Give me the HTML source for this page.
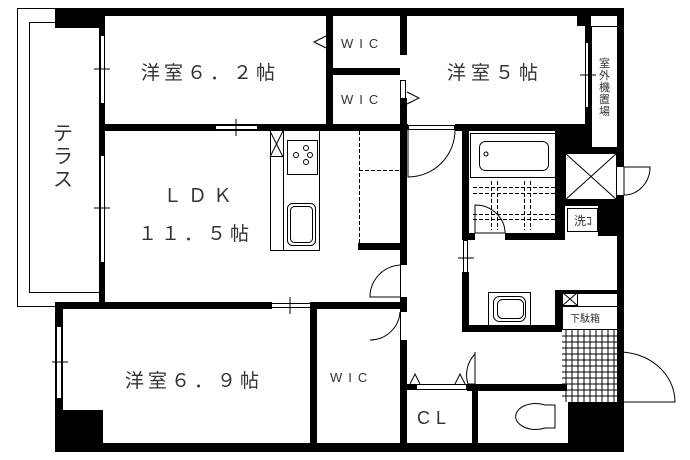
<!DOCTYPE html>
<html><head><meta charset="utf-8"><style>
html,body{margin:0;padding:0;background:#fff;}
svg{display:block;}
text{font-family:"Liberation Sans","Noto Sans CJK JP",sans-serif;fill:#333;}
</style></head><body>
<svg width="690" height="460" viewBox="0 0 690 460" xmlns="http://www.w3.org/2000/svg">
<rect width="690" height="460" fill="#fff"/>
<path d="M55 8.5 H17.5 V306.5 H55" fill="none" stroke="#000"/>
<rect x="29.5" y="22.5" width="70" height="270" fill="none" stroke="#000"/>
<g fill="#000">
<rect x="55" y="8" width="569" height="8"/>
<rect x="55" y="8" width="50" height="20"/>
<rect x="577" y="16" width="13" height="10"/>
<rect x="617" y="8" width="7" height="159"/>
<rect x="617" y="195" width="7" height="257"/>
<rect x="590" y="147" width="27" height="6"/>
<rect x="585" y="16" width="6" height="114"/>
<rect x="99" y="28" width="6" height="274"/>
<rect x="99" y="124" width="308" height="7"/>
<rect x="400" y="124" width="8" height="6"/>
<rect x="455" y="124" width="136" height="7"/>
<rect x="326" y="16" width="7" height="115"/>
<rect x="333" y="68" width="67" height="7"/>
<rect x="400" y="16" width="7" height="39"/>
<rect x="400" y="98" width="7" height="33"/>
<rect x="400" y="130" width="7" height="135"/>
<rect x="400" y="297" width="7" height="15"/>
<rect x="400" y="340" width="7" height="112"/>
<rect x="358" y="243" width="42" height="7"/>
<rect x="55" y="302" width="217" height="7"/>
<rect x="310" y="302" width="97" height="7"/>
<rect x="55" y="302" width="8" height="150"/>
<rect x="55" y="410" width="48" height="42"/>
<rect x="55" y="443" width="569" height="9"/>
<rect x="310" y="302" width="7" height="150"/>
<rect x="462" y="130" width="7" height="110"/>
<rect x="462" y="233" width="13" height="7"/>
<rect x="505" y="233" width="53" height="7"/>
<rect x="555" y="130" width="10" height="110"/>
<rect x="555" y="130" width="37" height="23"/>
<rect x="555" y="200" width="62" height="6"/>
<rect x="598" y="206" width="19" height="30"/>
<rect x="462" y="272" width="7" height="60"/>
<rect x="462" y="325" width="100" height="7"/>
<rect x="555" y="290" width="7" height="42"/>
<rect x="555" y="290" width="63" height="4"/>
<rect x="407" y="384" width="10" height="6"/>
<rect x="467" y="384" width="100" height="7"/>
<rect x="472" y="384" width="6" height="60"/>
<rect x="568" y="402" width="56" height="50"/>
</g>
<g fill="#fff" stroke="#000" stroke-width="1">
<rect x="100.5" y="35.5" width="4" height="68"/>
<rect x="100.5" y="155.5" width="4" height="107"/>
<rect x="215.5" y="125.5" width="42" height="4"/>
<rect x="271.5" y="303.5" width="39" height="4"/>
<rect x="56.5" y="326.5" width="5" height="72"/>
<rect x="585.5" y="42.5" width="3" height="65"/>
<rect x="463.5" y="240.5" width="4" height="32"/>
</g>
<g stroke="#000" stroke-width="1" fill="none">
<path d="M94 69H110M94 208H110M236 119V136M290 297V314M52 362H68M580 75H596M458 258H474"/>
<path d="M326 36 L314 42 L326 48"/><path d="M407 92 L419 98 L407 104"/>
<rect x="327.5" y="30.5" width="5" height="20"/>
<rect x="400.5" y="80.5" width="5" height="20"/>
<rect x="408.5" y="125.5" width="46" height="4"/>
<path d="M408 130 V177 A47 47 0 0 0 455 130"/>
<path d="M359.5 131 V243 M359 170.5 H400" stroke-dasharray="4 2"/>
<path d="M400 265 A32 32 0 0 0 370 297 H400"/>
<path d="M400 312 A30 30 0 0 1 370 340"/>
<path d="M400.5 265 V297 M400.5 312 V340"/>
<rect x="270.5" y="130.5" width="49" height="120"/>
<path d="M283.5 131 V250"/>
<rect x="270.5" y="130.5" width="13" height="26"/><path d="M270 131 L283 157 M283 131 L270 157"/>
<rect x="287.5" y="140.5" width="30" height="34"/>
<circle cx="296" cy="155" r="2.5"/><circle cx="306" cy="148" r="2.5"/><circle cx="306" cy="162" r="2.5"/><circle cx="310" cy="155" r="2.5"/>
<rect x="287.5" y="203.5" width="28" height="42" rx="5"/>
<rect x="290.5" y="206.5" width="22" height="36" rx="4"/>
<rect x="591.5" y="26.5" width="26" height="121"/>
<rect x="470.5" y="133.5" width="86" height="44"/>
<rect x="479.5" y="141.5" width="69" height="29" rx="6"/>
<circle cx="486" cy="154" r="2"/>
<path d="M473 187.5H556M473 193.5H556M473 214.5H556M473 219.5H556" stroke-dasharray="4 2"/>
<path d="M491.5 181V230M497.5 181V230M524.5 181V230M530.5 181V230" stroke-dasharray="4 2"/>
<path d="M475 205 V233 H505 A30 28 0 0 0 475 205"/>
<rect x="565.5" y="153.5" width="51" height="46"/>
<path d="M565 153 L617 200 M617 153 L565 200"/>
<path d="M624 167 V195 A26 28 0 0 0 650 167 Z"/>
<rect x="567.5" y="208.5" width="30" height="23"/>
<rect x="488.5" y="292.5" width="42" height="33"/>
<rect x="493.5" y="296.5" width="32" height="25" rx="6"/>
<rect x="497.5" y="299.5" width="26" height="19" rx="5"/>
<rect x="562.5" y="292.5" width="15" height="13"/><path d="M562 292 L578 306 M578 292 L562 306"/>
<rect x="562.5" y="306.5" width="55" height="23"/>
<g stroke-width="1">
<path d="M566 330V402M572 330V402M578 330V402M584 330V402M590 330V402M596 330V402M602 330V402M608 330V402M614 330V402"/>
<path d="M562 336H618M562 342H618M562 348H618M562 354H618M562 360H618M562 366H618M562 372H618M562 378H618M562 384H618M562 390H618M562 396H618"/>
</g>
<path d="M618 352 A56 50 0 0 1 675 402 H618"/>
<rect x="408.5" y="384.5" width="58" height="5"/>
<path d="M410 384 L415 374 L420 384 M455 384 L460 374 L465 384"/>
<path d="M475 384 V352 M475 384 H468 A30 30 0 0 1 475 354"/>
<path d="M555 405 H545 A20 13 0 1 0 545 428 H555 Z"/>
</g>
<g font-size="19">
<text x="141" y="79" letter-spacing="4">洋室６．２帖</text>
<text x="447" y="79" letter-spacing="5">洋室５帖</text>
<text x="125" y="387" letter-spacing="4">洋室６．９帖</text>
<text x="163" y="202" letter-spacing="6">ＬＤＫ</text>
<text x="138" y="240" letter-spacing="4">１１．５帖</text>
</g>
<g font-size="20">
<text x="53" y="140">テ</text><text x="53" y="163">ラ</text><text x="53" y="186">ス</text>
</g>
<g font-size="13" letter-spacing="6">
<text x="341" y="48">WIC</text>
<text x="341" y="104">WIC</text>
<text x="330" y="382">WIC</text>
</g>
<text x="417" y="424" font-size="18" letter-spacing="6">CL</text>
<g font-size="11">
<text x="599" y="67">室</text><text x="599" y="79">外</text><text x="599" y="91">機</text><text x="599" y="103">置</text><text x="599" y="115">場</text>
</g>
<text x="574" y="225" font-size="12">洗ｺ</text>
<text x="570" y="322" font-size="10">下駄箱</text>
</svg>
</body></html>
